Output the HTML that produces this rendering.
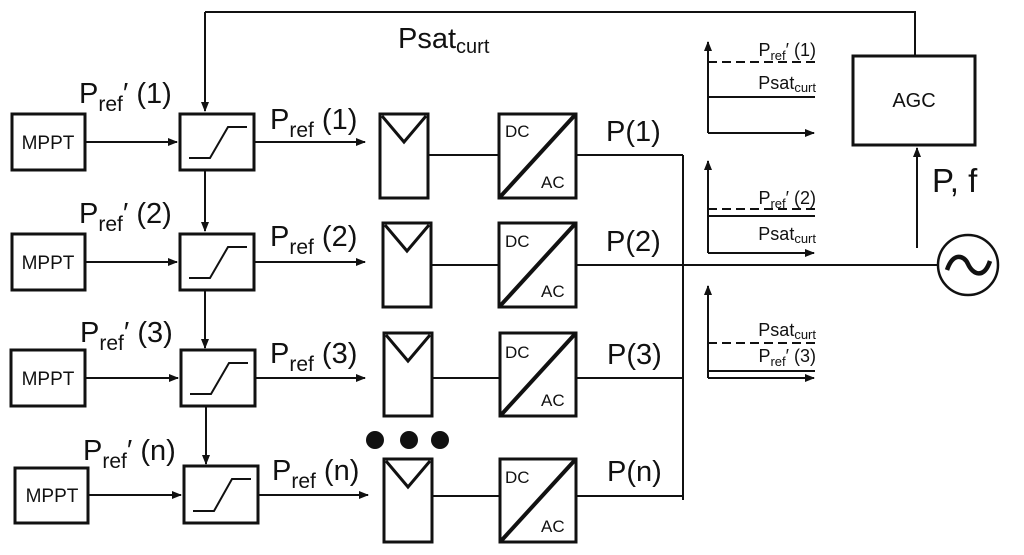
<!DOCTYPE html>
<html><head><meta charset="utf-8"><style>
body{margin:0;background:#fff}
svg{display:block}
text{font-family:"Liberation Sans",sans-serif;fill:#111}
</style></head><body>
<svg width="1024" height="555" viewBox="0 0 1024 555" xmlns="http://www.w3.org/2000/svg">
<defs>
<marker id="a" markerWidth="10" markerHeight="8" refX="9" refY="4" orient="auto" markerUnits="userSpaceOnUse"><path d="M0,0 L10,4 L0,8 z" fill="#111"/></marker>
</defs>
<g stroke="#111" fill="none">
<polyline points="205,12 915,12 915,55" stroke-width="2"/>
<line x1="205" y1="12" x2="205" y2="111" stroke-width="2" marker-end="url(#a)"/>
<rect x="853" y="56" width="122" height="89" stroke-width="3"/>
<line x1="917" y1="248" x2="917" y2="148" stroke-width="2" marker-end="url(#a)"/>
<circle cx="968" cy="265" r="30" stroke-width="2.5"/>
<path d="M947,270 C953,252 964,255 968,264 C973,275 984,279 990,261" stroke-width="4.5"/>
<line x1="683" y1="155" x2="683" y2="500" stroke-width="2"/>
<line x1="576" y1="265" x2="938" y2="265" stroke-width="2"/>
</g>
<g stroke="#111" fill="none">
<rect x="12" y="114" width="73" height="56" stroke-width="3"/>
<line x1="85" y1="142" x2="177" y2="142" stroke-width="2" marker-end="url(#a)"/>
<rect x="180" y="114" width="74" height="56" stroke-width="3"/>
<polyline points="189,158 210,158 228,127 247,127" stroke-width="2"/>
<line x1="254" y1="142" x2="365" y2="142" stroke-width="2" marker-end="url(#a)"/>
<line x1="205" y1="170" x2="205" y2="231" stroke-width="2" marker-end="url(#a)"/>
<rect x="380" y="114" width="48" height="84" stroke-width="3"/>
<polyline points="382,116 404,142 426,116" stroke-width="3"/>
<line x1="428" y1="155" x2="498" y2="155" stroke-width="2"/>
<rect x="499" y="114" width="77" height="84" stroke-width="3"/>
<line x1="500" y1="197" x2="575" y2="115" stroke-width="4"/>
<line x1="576" y1="155" x2="683" y2="155" stroke-width="2"/>

<rect x="12" y="234" width="73" height="56" stroke-width="3"/>
<line x1="85" y1="262" x2="177" y2="262" stroke-width="2" marker-end="url(#a)"/>
<rect x="180" y="234" width="74" height="56" stroke-width="3"/>
<polyline points="189,278 210,278 228,247 247,247" stroke-width="2"/>
<line x1="254" y1="262" x2="365" y2="262" stroke-width="2" marker-end="url(#a)"/>
<line x1="205" y1="290" x2="205" y2="348" stroke-width="2" marker-end="url(#a)"/>
<rect x="383" y="223" width="48" height="84" stroke-width="3"/>
<polyline points="385,225 407,251 429,225" stroke-width="3"/>
<line x1="431" y1="265" x2="498" y2="265" stroke-width="2"/>
<rect x="499" y="223" width="77" height="84" stroke-width="3"/>
<line x1="500" y1="306" x2="575" y2="224" stroke-width="4"/>

<rect x="11" y="350" width="74" height="56" stroke-width="3"/>
<line x1="85" y1="378" x2="178" y2="378" stroke-width="2" marker-end="url(#a)"/>
<rect x="181" y="350" width="74" height="56" stroke-width="3"/>
<polyline points="190,394 211,394 229,363 248,363" stroke-width="2"/>
<line x1="255" y1="378" x2="365" y2="378" stroke-width="2" marker-end="url(#a)"/>
<line x1="206" y1="406" x2="206" y2="464" stroke-width="2" marker-end="url(#a)"/>
<rect x="384" y="333" width="48" height="83" stroke-width="3"/>
<polyline points="386,335 408,361 430,335" stroke-width="3"/>
<line x1="432" y1="378" x2="499" y2="378" stroke-width="2"/>
<rect x="500" y="333" width="76" height="83" stroke-width="3"/>
<line x1="501" y1="415" x2="575" y2="334" stroke-width="4"/>
<line x1="576" y1="378" x2="683" y2="378" stroke-width="2"/>

<rect x="15" y="468" width="73" height="55" stroke-width="3"/>
<line x1="88" y1="495" x2="181" y2="495" stroke-width="2" marker-end="url(#a)"/>
<rect x="184" y="466" width="74" height="57" stroke-width="3"/>
<polyline points="193,511 214,511 232,479 251,479" stroke-width="2"/>
<line x1="258" y1="495" x2="368" y2="495" stroke-width="2" marker-end="url(#a)"/>
<rect x="384" y="459" width="48" height="83" stroke-width="3"/>
<polyline points="386,461 408,487 430,461" stroke-width="3"/>
<line x1="432" y1="496" x2="499" y2="496" stroke-width="2"/>
<rect x="500" y="459" width="76" height="83" stroke-width="3"/>
<line x1="501" y1="541" x2="575" y2="460" stroke-width="4"/>
<line x1="576" y1="496" x2="683" y2="496" stroke-width="2"/>
</g>
<g fill="#111">
<circle cx="375" cy="440" r="9"/><circle cx="409" cy="440" r="9"/><circle cx="440" cy="440" r="9"/>
</g>
<g stroke="#111" fill="none" stroke-width="2">
<line x1="708" y1="133" x2="708" y2="42" marker-end="url(#a)"/>
<line x1="708" y1="133" x2="814" y2="133" marker-end="url(#a)"/>
<line x1="708" y1="62" x2="815" y2="62" stroke-dasharray="9,5"/>
<line x1="708" y1="97" x2="815" y2="97"/>
<line x1="708" y1="253" x2="708" y2="161" marker-end="url(#a)"/>
<line x1="708" y1="253" x2="814" y2="253" marker-end="url(#a)"/>
<line x1="708" y1="209" x2="815" y2="209" stroke-dasharray="9,5"/>
<line x1="708" y1="216" x2="815" y2="216"/>
<line x1="708" y1="378" x2="708" y2="286" marker-end="url(#a)"/>
<line x1="708" y1="378" x2="814" y2="378" marker-end="url(#a)"/>
<line x1="708" y1="343" x2="815" y2="343" stroke-dasharray="9,5"/>
<line x1="708" y1="371" x2="815" y2="371"/>
</g>
<g font-size="18" text-anchor="end">
<text x="816" y="56">P<tspan font-size="13" dy="4">ref</tspan><tspan dy="-4">′ (1)</tspan></text>
<text x="816" y="89">Psat<tspan font-size="13" dy="3">curt</tspan></text>
<text x="816" y="204">P<tspan font-size="13" dy="4">ref</tspan><tspan dy="-4">′ (2)</tspan></text>
<text x="816" y="240">Psat<tspan font-size="13" dy="3">curt</tspan></text>
<text x="816" y="336">Psat<tspan font-size="13" dy="3">curt</tspan></text>
<text x="816" y="362">P<tspan font-size="13" dy="4">ref</tspan><tspan dy="-4">′ (3)</tspan></text>
</g>
<g font-size="19" text-anchor="middle">
<text x="48" y="149">MPPT</text><text x="48" y="269">MPPT</text><text x="48" y="385">MPPT</text><text x="52" y="502">MPPT</text>
<text x="914" y="107" font-size="20">AGC</text>
</g>
<g font-size="17">
<text x="505" y="137">DC</text><text x="541" y="188">AC</text>
<text x="505" y="247">DC</text><text x="541" y="297">AC</text>
<text x="505" y="358">DC</text><text x="541" y="406">AC</text>
<text x="505" y="483">DC</text><text x="541" y="532">AC</text>
</g>
<g font-size="29">
<text x="398" y="48">Psat<tspan font-size="20" dy="5">curt</tspan></text>
<text x="79" y="103">P<tspan font-size="21" dy="8">ref</tspan><tspan dy="-8">′ (1)</tspan></text>
<text x="79" y="223">P<tspan font-size="21" dy="8">ref</tspan><tspan dy="-8">′ (2)</tspan></text>
<text x="80" y="342">P<tspan font-size="21" dy="8">ref</tspan><tspan dy="-8">′ (3)</tspan></text>
<text x="83" y="460">P<tspan font-size="21" dy="8">ref</tspan><tspan dy="-8">′ (n)</tspan></text>
<text x="270" y="129">P<tspan font-size="21" dy="8">ref</tspan><tspan dy="-8"> (1)</tspan></text>
<text x="270" y="246">P<tspan font-size="21" dy="8">ref</tspan><tspan dy="-8"> (2)</tspan></text>
<text x="270" y="363">P<tspan font-size="21" dy="8">ref</tspan><tspan dy="-8"> (3)</tspan></text>
<text x="272" y="480">P<tspan font-size="21" dy="8">ref</tspan><tspan dy="-8"> (n)</tspan></text>
<text x="606" y="141">P(1)</text>
<text x="606" y="251">P(2)</text>
<text x="607" y="364">P(3)</text>
<text x="607" y="481">P(n)</text>
<text x="932" y="192" font-size="33">P, f</text>
</g>
</svg>
</body></html>
